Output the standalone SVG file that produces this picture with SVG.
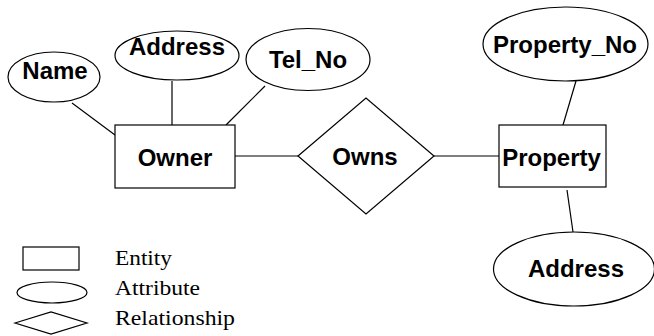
<svg xmlns="http://www.w3.org/2000/svg" width="654" height="336" viewBox="0 0 654 336">
  <style>
    .shape { fill: #ffffff; stroke: #000000; stroke-width: 1.2; }
    .edge { fill: none; stroke: #000000; stroke-width: 1.2; }
    .label { font-family: "Liberation Sans", Arial, sans-serif; font-weight: bold; font-size: 24px; fill: #000000; text-anchor: middle; }
    .legend { font-family: "Liberation Serif", "Times New Roman", serif; font-size: 21px; fill: #000000; }
  </style>
  <rect width="654" height="336" fill="#ffffff"/>

  <!-- connectors -->
  <g id="connectors">
    <line class="edge" x1="72" y1="103" x2="115" y2="135"/>
    <line class="edge" x1="172" y1="81" x2="172" y2="125"/>
    <line class="edge" x1="265" y1="86" x2="226" y2="125"/>
    <line class="edge" x1="235" y1="156" x2="298" y2="156"/>
    <line class="edge" x1="434" y1="156" x2="499" y2="156"/>
    <line class="edge" x1="576" y1="81" x2="563" y2="125"/>
    <line class="edge" x1="567" y1="190" x2="573" y2="232"/>
  </g>

  <!-- Owner entity and its attributes -->
  <g id="attr-name">
    <ellipse class="shape" cx="54" cy="77" rx="46" ry="25"/>
    <text class="label" x="55" y="79">Name</text>
  </g>
  <g id="attr-owner-address">
    <ellipse class="shape" cx="177" cy="55.5" rx="62" ry="24.5"/>
    <text class="label" x="177" y="55">Address</text>
  </g>
  <g id="attr-tel-no">
    <ellipse class="shape" cx="308" cy="59.5" rx="62" ry="31"/>
    <text class="label" x="308" y="68">Tel_No</text>
  </g>
  <g id="entity-owner">
    <rect class="shape" x="115" y="125" width="120" height="63"/>
    <text class="label" x="175" y="166">Owner</text>
  </g>

  <!-- relationship -->
  <g id="rel-owns">
    <polygon class="shape" points="298,156 366,98 434,156 366,214"/>
    <text class="label" x="365" y="165">Owns</text>
  </g>

  <!-- Property entity and its attributes -->
  <g id="entity-property">
    <rect class="shape" x="499" y="125" width="107" height="62"/>
    <text class="label" x="551.5" y="166">Property</text>
  </g>
  <g id="attr-property-no">
    <ellipse class="shape" cx="565.5" cy="44" rx="82.5" ry="37"/>
    <text class="label" x="565" y="53">Property_No</text>
  </g>
  <g id="attr-property-address">
    <ellipse class="shape" cx="574" cy="269" rx="80.5" ry="37"/>
    <text class="label" x="576" y="277">Address</text>
  </g>

  <!-- legend -->
  <g id="legend">
    <rect class="shape" x="23" y="247" width="56" height="23"/>
    <ellipse class="shape" cx="52" cy="292.5" rx="35" ry="10.5"/>
    <polygon class="shape" points="15,323 51,312 87,323 51,334"/>
    <text class="legend" x="115" y="265" textLength="57" lengthAdjust="spacingAndGlyphs">Entity</text>
    <text class="legend" x="115" y="295" textLength="85" lengthAdjust="spacingAndGlyphs">Attribute</text>
    <text class="legend" x="115" y="325" textLength="120" lengthAdjust="spacingAndGlyphs">Relationship</text>
  </g>
</svg>
